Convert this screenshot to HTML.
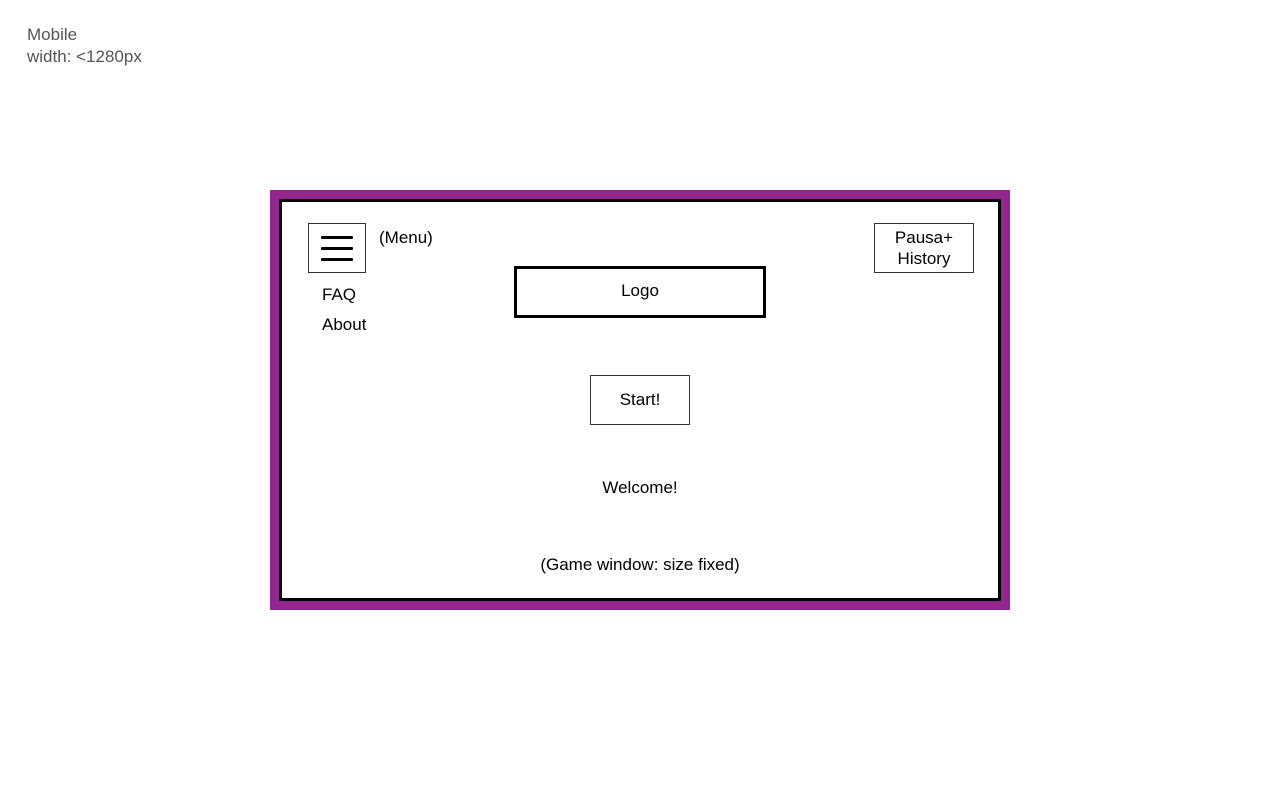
<!DOCTYPE html>
<html><head><meta charset="utf-8"><style>
body{margin:0;width:1280px;height:800px;background:#fff;position:relative;font-family:"Liberation Sans",sans-serif;overflow:hidden}
.a{position:absolute}
.t{position:absolute;font-size:17px;color:#000;white-space:nowrap;line-height:21px}
.c{text-align:center}
</style></head><body>
<div class="t" style="left:27px;top:24px;color:#555;font-size:17px;line-height:22px">Mobile<br>width: &lt;1280px</div>
<div class="a" style="left:270px;top:190px;width:740px;height:420px;background:#93278f"></div>
<div class="a" style="left:279px;top:199px;width:716px;height:396px;background:#fff;border:3px solid #000"></div>
<div class="a" style="left:308px;top:223px;width:56px;height:48px;border:1px solid #333"></div>
<div class="a" style="left:321px;top:236px;width:32px;height:3px;background:#000;border-radius:1px"></div>
<div class="a" style="left:321px;top:247px;width:32px;height:3px;background:#000;border-radius:1px"></div>
<div class="a" style="left:321px;top:258px;width:32px;height:3px;background:#000;border-radius:1px"></div>
<div class="t" style="left:379px;top:227px">(Menu)</div>
<div class="t" style="left:322px;top:284px">FAQ</div>
<div class="t" style="left:322px;top:314px">About</div>
<div class="a" style="left:874px;top:223px;width:98px;height:48px;border:1px solid #333"></div>
<div class="t c" style="left:874px;top:227px;width:100px;line-height:21px">Pausa+<br>History</div>
<div class="a" style="left:514px;top:266px;width:246px;height:46px;border:3px solid #000"></div>
<div class="t c" style="left:514px;top:280px;width:252px">Logo</div>
<div class="a" style="left:590px;top:375px;width:98px;height:48px;border:1px solid #333"></div>
<div class="t c" style="left:590px;top:389px;width:100px">Start!</div>
<div class="t c" style="left:540px;top:477px;width:200px">Welcome!</div>
<div class="t c" style="left:490px;top:554px;width:300px">(Game window: size fixed)</div>
</body></html>
